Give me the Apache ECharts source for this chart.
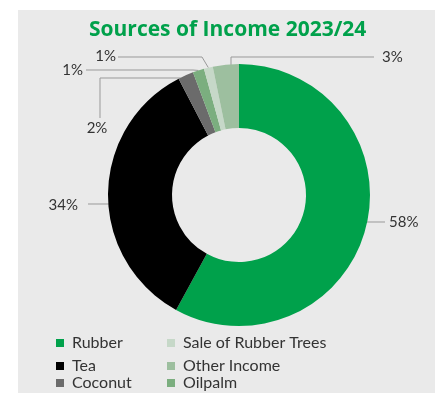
<!DOCTYPE html>
<html><head><meta charset="utf-8">
<script src="https://cdn.jsdelivr.net/npm/echarts@6/dist/echarts.min.js"></script>
<style>html,body{margin:0;padding:0;background:#fff;}#c{width:435px;height:393px;}</style>
</head><body><div id="c"></div>
<script>
const categories = ['Rubber','Tea','Coconut','Oilpalm','Sale of Rubber Trees','Other Income'];
const values = [57.8, 34.3, 1.9, 1.4, 1.1, 3.2];
const colors = ['#00a14b','#000000','#6b6b6b','#7bae7f','#c6d8c8','#9dbf9f'];
const legendCol1 = ['Rubber','Tea','Coconut'];
const legendCol2 = ['Sale of Rubber Trees','Other Income','Oilpalm'];

const chart = echarts.init(document.getElementById('c'));
const legendTops = [335, 358, 375];
const legends = [];
legendCol1.forEach((n,i)=>legends.push({name:n,left:56,top:legendTops[i]}));
legendCol2.forEach((n,i)=>legends.push({name:n,left:167,top:legendTops[i]}));

// label layout: [labelX, labelY, align]
const labelPos = [[389,222,'left'],[78,205,'right'],[97,128,'center'],[83,70,'right'],[116,56,'right'],[382,57,'left']];

chart.setOption({
  animation:false,
  graphic:[{type:'rect',shape:{x:18,y:10,width:417,height:383},style:{fill:'#eaeaea'},z:-10}],
  title:{text:'Sources of Income 2023/24',left:89,top:20,padding:0,
    textStyle:{color:'#00a14b',fontFamily:'Open Sans',fontWeight:'bold',fontSize:21}},
  legend: legends.map(l=>({data:[l.name],left:l.left,top:l.top,orient:'vertical',padding:0,
    icon:'rect',itemWidth:8,itemHeight:8,selectedMode:false,
    textStyle:{color:'#333',fontFamily:'Lato',fontSize:16,padding:[0,0,0,3]}})),
  series:[{
    type:'pie',center:[239,195],radius:[67,131],startAngle:90,clockwise:true,
    avoidLabelOverlap:false,silent:true,
    data:categories.map((c,i)=>({name:c,value:values[i],itemStyle:{color:colors[i]}})),
    label:{show:true,formatter:p=>Math.round(p.value)+'%',color:'#333',fontFamily:'Lato',fontSize:15},
    labelLine:{show:true,length:10,length2:10,lineStyle:{color:'#999',width:1}},
    labelLayout:function(params){
      const i=params.dataIndex;
      const p0=params.labelLinePoints?params.labelLinePoints[0]:[0,0];
      const lp=labelPos[i];
      let pts;
      if(i===0) pts=[[p0[0],222],[385,222]];
      else if(i===1) pts=[[109,204],[88,204]];
      else if(i===2) pts=[[p0[0]-5,78],[100,78],[100,118]];
      else if(i===3) pts=[p0,[193,70],[86,70]];
      else if(i===4) pts=[p0,[202,57],[118,57]];
      else pts=[[231,65],[231,57],[374,57]];
      return {x:lp[0],y:lp[1],align:lp[2],verticalAlign:'middle',labelLinePoints:pts};
    }
  }]
});
</script></body></html>
